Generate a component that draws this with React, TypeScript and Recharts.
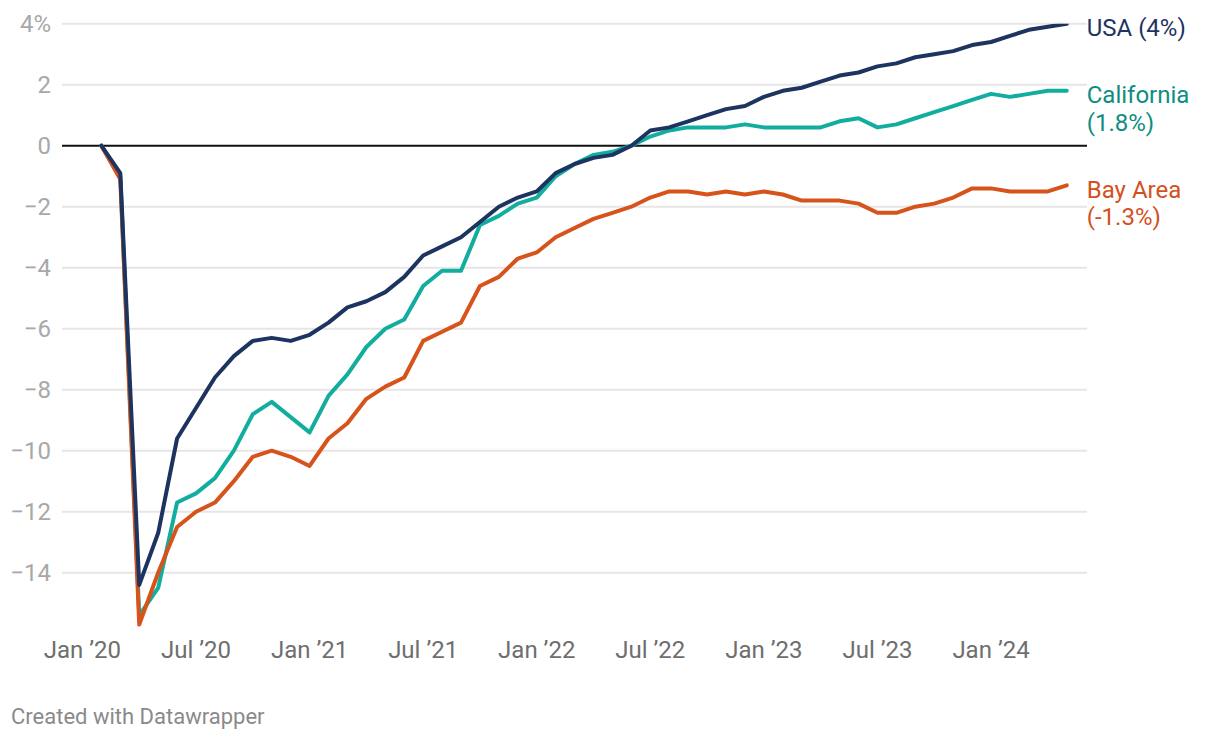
import React from "react";
import { LineChart, Line, XAxis, YAxis, CartesianGrid, ReferenceLine } from "recharts";

const months = [
  "2020-02","2020-03","2020-04","2020-05","2020-06","2020-07","2020-08","2020-09","2020-10","2020-11","2020-12",
  "2021-01","2021-02","2021-03","2021-04","2021-05","2021-06","2021-07","2021-08","2021-09","2021-10","2021-11","2021-12",
  "2022-01","2022-02","2022-03","2022-04","2022-05","2022-06","2022-07","2022-08","2022-09","2022-10","2022-11","2022-12",
  "2023-01","2023-02","2023-03","2023-04","2023-05","2023-06","2023-07","2023-08","2023-09","2023-10","2023-11","2023-12",
  "2024-01","2024-02","2024-03","2024-04","2024-05",
];

const usa = [
  0, -0.9, -14.4, -12.7, -9.6, -8.6, -7.6, -6.9, -6.4, -6.3, -6.4,
  -6.2, -5.8, -5.3, -5.1, -4.8, -4.3, -3.6, -3.3, -3.0, -2.5, -2.0, -1.7,
  -1.5, -0.9, -0.6, -0.4, -0.3, 0, 0.5, 0.6, 0.8, 1.0, 1.2, 1.3,
  1.6, 1.8, 1.9, 2.1, 2.3, 2.4, 2.6, 2.7, 2.9, 3.0, 3.1, 3.3,
  3.4, 3.6, 3.8, 3.9, 4.0,
];

const california = [
  0, -1.0, -15.4, -14.5, -11.7, -11.4, -10.9, -10.0, -8.8, -8.4, -8.9,
  -9.4, -8.2, -7.5, -6.6, -6.0, -5.7, -4.6, -4.1, -4.1, -2.6, -2.3, -1.9,
  -1.7, -1.0, -0.6, -0.3, -0.2, 0, 0.3, 0.5, 0.6, 0.6, 0.6, 0.7,
  0.6, 0.6, 0.6, 0.6, 0.8, 0.9, 0.6, 0.7, 0.9, 1.1, 1.3, 1.5,
  1.7, 1.6, 1.7, 1.8, 1.8,
];

const bayArea = [
  0, -1.1, -15.7, -14.0, -12.5, -12.0, -11.7, -11.0, -10.2, -10.0, -10.2,
  -10.5, -9.6, -9.1, -8.3, -7.9, -7.6, -6.4, -6.1, -5.8, -4.6, -4.3, -3.7,
  -3.5, -3.0, -2.7, -2.4, -2.2, -2.0, -1.7, -1.5, -1.5, -1.6, -1.5, -1.6,
  -1.5, -1.6, -1.8, -1.8, -1.8, -1.9, -2.2, -2.2, -2.0, -1.9, -1.7, -1.4,
  -1.4, -1.5, -1.5, -1.5, -1.3,
];

const tickDates = ["2020-01","2020-07","2021-01","2021-07","2022-01","2022-07","2023-01","2023-07","2024-01"];
const tickLabels = ["Jan ’20","Jul ’20","Jan ’21","Jul ’21","Jan ’22","Jul ’22","Jan ’23","Jul ’23","Jan ’24"];
const yTicks = [-14, -12, -10, -8, -6, -4, -2, 0, 2, 4];

const usaLabel = ["USA (4%)"];
const californiaLabel = ["California", "(1.8%)"];
const bayAreaLabel = ["Bay Area", "(-1.3%)"];

const COLORS = {
  usa: "#1d3461",
  ca: "#13ad9f",
  caText: "#0e8d83",
  bay: "#d6541c",
  bayText: "#d4501c",
};

const monthIndex = (d: string) => {
  const [y, m] = d.split("-").map(Number);
  return (y - 2020) * 12 + (m - 1);
};

const data = months.map((d, i) => ({
  m: monthIndex(d),
  usa: usa[i],
  ca: california[i],
  bay: bayArea[i],
}));

const xTicks = tickDates.map(monthIndex);

const FONT = "Roboto, 'Noto Sans', sans-serif";

const makeEndLabel = (lines: string[], color: string) => (props: any) => {
  const { x, y, index } = props;
  if (index !== data.length - 1) return null;
  return (
    <text x={x + 20} y={y + 12.5} fill={color} fontSize={24} fontFamily={FONT} textAnchor="start">
      {lines.map((l, i) => (
        <tspan key={i} x={x + 20} dy={i === 0 ? 0 : 27.5}>
          {l}
        </tspan>
      ))}
    </text>
  );
};

const XTick = (props: any) => {
  const { x, y, payload } = props;
  const i = xTicks.indexOf(payload.value);
  return (
    <text x={x} y={y + 24.6} textAnchor="middle" fill="#6e6e6e" fontSize={24} fontFamily={FONT}>
      {i >= 0 ? tickLabels[i] : ""}
    </text>
  );
};

const YTick = (props: any) => {
  const { y, payload } = props;
  const v = payload.value as number;
  const label = v === 4 ? "4%" : v < 0 ? "\u2212" + Math.abs(v) : String(v);
  return (
    <text x={51} y={y} dy="0.35em" textAnchor="end" fill="#a8a8a8" fontSize={24} fontFamily={FONT}>
      {label}
    </text>
  );
};

export default function App() {
  return (
    <div style={{ position: "absolute", left: 0, top: 0, width: 1220, height: 740, background: "#fff", fontFamily: FONT }}>
      <LineChart
        width={1220}
        height={740}
        data={data}
        margin={{ top: 23.7, right: 133, bottom: 76.3, left: 0 }}
      >
        <CartesianGrid vertical={false} horizontal={false} />
        {yTicks
          .filter((t) => t !== 0)
          .map((t) => (
            <ReferenceLine key={t} y={t} stroke="#e6e6e6" strokeWidth={2} />
          ))}
        <XAxis
          dataKey="m"
          type="number"
          domain={[-1.08, 53.07]}
          ticks={xTicks}
          allowDataOverflow
          axisLine={false}
          tickLine={false}
          tickSize={0}
          tickMargin={0}
          height={30}
          tick={<XTick />}
          interval={0}
        />
        <YAxis
          type="number"
          domain={[-16, 4]}
          ticks={yTicks}
          allowDataOverflow
          axisLine={false}
          tickLine={false}
          tickSize={0}
          tickMargin={0}
          width={62}
          tick={<YTick />}
          interval={0}
        />
        <ReferenceLine y={0} stroke="#111" strokeWidth={2} />
        <Line
          dataKey="ca"
          stroke={COLORS.ca}
          strokeWidth={4}
          dot={false}
          strokeLinejoin="round"
          strokeLinecap="round"
          isAnimationActive={false}
          label={makeEndLabel(californiaLabel, COLORS.caText)}
        />
        <Line
          dataKey="bay"
          stroke={COLORS.bay}
          strokeWidth={4}
          dot={false}
          strokeLinejoin="round"
          strokeLinecap="round"
          isAnimationActive={false}
          label={makeEndLabel(bayAreaLabel, COLORS.bayText)}
        />
        <Line
          dataKey="usa"
          stroke={COLORS.usa}
          strokeWidth={4}
          dot={false}
          strokeLinejoin="round"
          strokeLinecap="round"
          isAnimationActive={false}
          label={makeEndLabel(usaLabel, COLORS.usa)}
        />
      </LineChart>
      <div
        style={{
          position: "absolute",
          left: 11,
          top: 704,
          fontSize: 22,
          color: "#8a8a8a",
          fontFamily: FONT,
          lineHeight: "26px",
          whiteSpace: "nowrap",
        }}
      >
        Created with Datawrapper
      </div>
    </div>
  );
}
